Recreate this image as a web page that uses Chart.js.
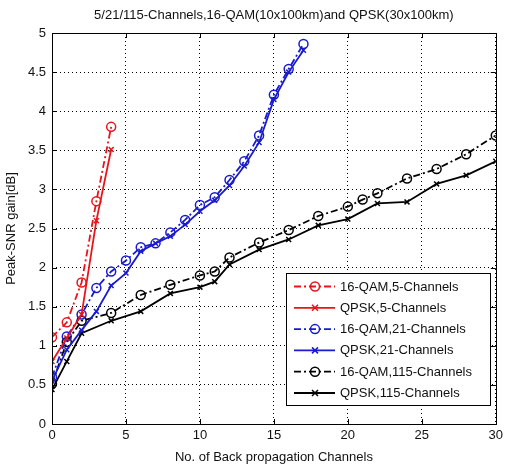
<!DOCTYPE html>
<html><head><meta charset="utf-8">
<script src="https://cdn.jsdelivr.net/npm/chart.js@4"></script>
<style>html,body{margin:0;padding:0;background:#fff;}canvas{display:block;}</style>
</head><body>
<canvas id="c" width="507" height="466"></canvas>
<script>
const titleText = "5/21/115-Channels,16-QAM(10x100km)and QPSK(30x100km)";
const xAxisLabel = "No. of Back propagation Channels";
const yAxisLabel = "Peak-SNR gain[dB]";
const seriesNames = ["16-QAM,5-Channels","QPSK,5-Channels","16-QAM,21-Channels","QPSK,21-Channels","16-QAM,115-Channels","QPSK,115-Channels"];

const x5 = [0,1,2,3,4];
const qam5 = [1.11,1.30,1.81,2.85,3.80];
const qpsk5 = [0.80,1.10,1.40,2.60,3.51];

const x21 = [0,1,2,3,4,5,6,7,8,9,10,11,12,13,14,15,16,17];
const qam21 = [0.60,1.12,1.40,1.74,1.95,2.09,2.26,2.31,2.45,2.61,2.80,2.90,3.12,3.36,3.69,4.21,4.54,4.86];
const qpsk21 = [0.55,0.95,1.20,1.44,1.77,1.93,2.21,2.31,2.40,2.55,2.72,2.86,3.05,3.30,3.60,4.15,4.50,4.78];

const xQam115 = [0,1,2,4,6,8,10,11,12,14,16,18,20,21,22,24,26,28,30];
const qam115 = [0.51,1.05,1.32,1.42,1.65,1.78,1.90,1.95,2.13,2.32,2.48,2.66,2.78,2.87,2.95,3.14,3.26,3.45,3.69];
const xQpsk115 = [0,1,2,4,6,8,10,11,12,14,16,18,20,22,24,26,28,30];
const qpsk115 = [0.44,0.80,1.16,1.32,1.44,1.67,1.75,1.82,2.04,2.23,2.36,2.54,2.62,2.82,2.84,3.07,3.18,3.36];

const xTickStep = 5, yTickStep = 0.5;

const RED = '#e8141a', BLUE = '#1a1ad0', BLACK = '#000000';
const DASHDOT = [7,3,2,3];
const FONT = '"Liberation Sans", Arial, sans-serif';

function pts(xs, ys){ return xs.map((x,i)=>({x:x,y:ys[i]})); }
function ds(label, xs, ys, color, isQam){
  return {
    label: label, data: pts(xs, ys),
    borderColor: color, backgroundColor: 'transparent',
    borderWidth: 1.8, borderDash: isQam ? DASHDOT : [],
    pointStyle: isQam ? 'circle' : 'crossRot',
    pointRadius: isQam ? 4.5 : 3.5,
    pointBorderWidth: 1.5,
    pointBorderColor: color, pointBackgroundColor: 'transparent',
    tension: 0, fill: false
  };
}

const datasets = [
  ds(seriesNames[0], x5, qam5, RED, true),
  ds(seriesNames[1], x5, qpsk5, RED, false),
  ds(seriesNames[2], x21, qam21, BLUE, true),
  ds(seriesNames[3], x21, qpsk21, BLUE, false),
  ds(seriesNames[4], xQam115, qam115, BLACK, true),
  ds(seriesNames[5], xQpsk115, qpsk115, BLACK, false)
];

const framePlugin = {
  id: 'frame',
  afterDatasetsDraw(chart){
    const ctx = chart.ctx, a = chart.chartArea;
    const xs = chart.scales.x, ys = chart.scales.y;
    ctx.save();
    ctx.strokeStyle = '#000'; ctx.lineWidth = 1; ctx.setLineDash([]);
    ctx.strokeRect(Math.round(a.left)+0.5, Math.round(a.top)+0.5, Math.round(a.right-a.left), Math.round(a.bottom-a.top));
    const L = 5;
    ctx.beginPath();
    xs.ticks.forEach(t=>{
      const px = Math.round(xs.getPixelForValue(t.value))+0.5;
      ctx.moveTo(px, a.bottom); ctx.lineTo(px, a.bottom-L);
      ctx.moveTo(px, a.top); ctx.lineTo(px, a.top+L);
    });
    ys.ticks.forEach(t=>{
      const py = Math.round(ys.getPixelForValue(t.value))+0.5;
      ctx.moveTo(a.left, py); ctx.lineTo(a.left+L, py);
      ctx.moveTo(a.right, py); ctx.lineTo(a.right-L, py);
    });
    ctx.stroke();
    ctx.restore();
  }
};

const legendPlugin = {
  id: 'boxLegend',
  afterDraw(chart){
    const ctx = chart.ctx, a = chart.chartArea;
    const bw = 204, bh = 132;
    const bx = Math.round(a.right - 6 - bw), by = Math.round(a.bottom - 19 - bh);
    ctx.save();
    ctx.fillStyle = '#fff';
    ctx.fillRect(bx, by, bw, bh);
    ctx.strokeStyle = '#000'; ctx.lineWidth = 1; ctx.setLineDash([]);
    ctx.strokeRect(bx+0.5, by+0.5, bw, bh);
    ctx.font = '13px ' + FONT;
    ctx.textBaseline = 'middle'; ctx.textAlign = 'left';
    chart.data.datasets.forEach((d,i)=>{
      const y = by + 13.5 + i*21.3;
      const x0 = bx + 8, x1 = bx + 49, mx = bx + 29;
      ctx.strokeStyle = d.borderColor;
      ctx.lineWidth = 1.8;
      ctx.setLineDash(d.borderDash);
      ctx.beginPath(); ctx.moveTo(x0,y); ctx.lineTo(x1,y); ctx.stroke();
      ctx.setLineDash([]);
      ctx.lineWidth = 1.5;
      ctx.beginPath();
      if (d.pointStyle === 'circle') {
        ctx.arc(mx, y, 4.5, 0, Math.PI*2);
      } else {
        const r = 3;
        ctx.moveTo(mx-r,y-r); ctx.lineTo(mx+r,y+r);
        ctx.moveTo(mx+r,y-r); ctx.lineTo(mx-r,y+r);
      }
      ctx.stroke();
      ctx.fillStyle = '#111';
      ctx.fillText(d.label, bx + 54, y + 0.5);
    });
    ctx.restore();
  }
};

const fmt = v => String(Number(Number(v).toFixed(2)));

new Chart(document.getElementById('c'), {
  type: 'line',
  data: { datasets: datasets },
  options: {
    responsive: false, animation: false,
    layout: { padding: { left: 0, right: 9, top: 0, bottom: 0 } },
    plugins: {
      legend: { display: false },
      tooltip: { enabled: false },
      title: { display: true, text: titleText, color: '#111', fullSize: false,
               font: { family: FONT, size: 13, weight: 'normal' },
               padding: { top: 8, bottom: 9.4 } }
    },
    scales: {
      x: {
        type: 'linear', min: 0, max: 30,
        ticks: { stepSize: xTickStep, color: '#111', padding: 4, font: { family: FONT, size: 13 }, callback: fmt },
        grid: { color: '#000', lineWidth: 1, drawTicks: false },
        border: { display: false, dash: [1,3] },
        title: { display: true, text: xAxisLabel, color: '#111', font: { family: FONT, size: 13 }, padding: { top: 0, bottom: 1 } },
        afterFit(s){ s.height = 42; }
      },
      y: {
        type: 'linear', min: 0, max: 5,
        ticks: { stepSize: yTickStep, color: '#111', padding: 6, font: { family: FONT, size: 13 }, callback: fmt },
        grid: { color: '#000', lineWidth: 1, drawTicks: false },
        border: { display: false, dash: [1,3] },
        title: { display: true, text: yAxisLabel, color: '#111', font: { family: FONT, size: 13 }, padding: { top: 4, bottom: 0 } },
        afterFit(s){ s.width = 52; }
      }
    }
  },
  plugins: [framePlugin, legendPlugin]
});
</script>
</body></html>
